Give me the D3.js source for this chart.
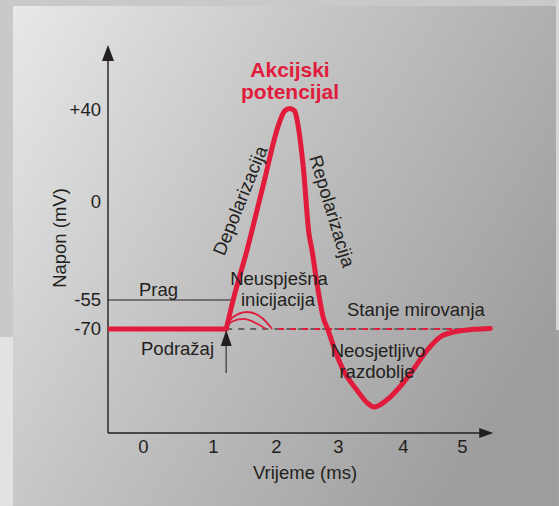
<!DOCTYPE html>
<html>
<head>
<meta charset="utf-8">
<script src="https://cdn.jsdelivr.net/npm/d3@7"></script>
<style>
  body { margin: 0; background: #c9c9c9; }
  svg { display: block; }
  text { font-family: "Liberation Sans", Arial, sans-serif; fill: #231f20; }
</style>
</head>
<body>
<svg id="chart" width="559" height="506"></svg>
<script>
// ---- data (time in ms, voltage in mV) ----
var xTicks = [0, 1, 2, 3, 4, 5];
var yTicks = [40, 0, -55, -70];
var yTickLabels = ["+40", "0", "-55", "-70"];

var restT = [-0.5, 1.21];
var restV = [-70, -70];

var spikeT = [1.21, 1.32, 1.54, 1.79, 2.06, 2.14, 2.22, 2.30, 2.34, 2.44, 2.53, 2.58, 2.66, 2.76, 2.84,
              2.95, 3.08, 3.29, 3.45, 3.55, 3.75, 4.00, 4.17, 4.41, 4.63, 4.85, 5.19, 5.48];
var spikeV = [-70, -55, -27, 6.5, 35, 39.6, 40.9, 39.6, 35.7, 15.2, -17.4, -26.9, -45.5, -63.8, -70.3,
              -76.1, -81.8, -87.6, -91.3, -92.5, -90.5, -85.6, -81.8, -76.1, -72.3, -70.9, -70.1, -69.7];

var failOuterT = [1.21, 1.30, 1.54, 1.78, 1.94];
var failOuterV = [-70, -64.3, -61.2, -64.3, -70];
var failInnerT = [1.21, 1.29, 1.48, 1.71, 1.84];
var failInnerV = [-70, -66.4, -64.8, -67.4, -70];

var restingV = -70;
var thresholdV = -55;
var stimulusT = 1.21;
var axisT = [-0.5, 5.53];
var axisV = [-100, 80];

// ---- drawing ----
var svg = d3.select("svg#chart");
var red = "#e11b3c";
var ink = "#231f20";
var fs = 18.5;

// the diagram is not drawn to scale, so both scales are piecewise
var x = d3.scaleLinear().domain(xTicks).range([143, 213, 276, 338, 403, 462]);
var y = d3.scaleLinear().domain([-100, -70, -55, 0, 40, 80]).range([433, 329, 300, 202, 110, 45]);

var defs = svg.append("defs");
var grad = defs.append("linearGradient")
  .attr("id", "bg")
  .attr("gradientUnits", "userSpaceOnUse")
  .attr("x1", 13).attr("y1", 6).attr("x2", 556).attr("y2", 330);
grad.append("stop").attr("offset", 0).attr("stop-color", "#e7e8e8");
grad.append("stop").attr("offset", 0.45).attr("stop-color", "#c4c4c4");
grad.append("stop").attr("offset", 1).attr("stop-color", "#9d9d9d");

// page edges
svg.append("rect").attr("x", 0).attr("y", 337).attr("width", 13).attr("height", 169).attr("fill", "#e2e2e2");
svg.append("rect").attr("x", 556).attr("y", 0).attr("width", 3).attr("height", 330).attr("fill", "#d6d6d6");
svg.append("rect").attr("x", 556).attr("y", 330).attr("width", 3).attr("height", 176).attr("fill", "#a0a0a0");
svg.append("rect").attr("x", 13).attr("y", 6).attr("width", 543).attr("height", 500).attr("fill", "url(#bg)");

// axes lines with arrows
var x0 = x(axisT[0]), x1 = x(axisT[1]);
var yb = y(axisV[0]), yt = y(axisV[1]);
svg.append("line").attr("x1", x0).attr("y1", yb).attr("x2", x0).attr("y2", yt + 10)
  .attr("stroke", ink).attr("stroke-width", 1.4);
svg.append("line").attr("x1", x0).attr("y1", yb).attr("x2", x1 - 10).attr("y2", yb)
  .attr("stroke", ink).attr("stroke-width", 1.4);
svg.append("path").attr("d", "M" + x0 + "," + yt + "L" + (x0 - 6) + "," + (yt + 16) + "L" + (x0 + 6) + "," + (yt + 16) + "Z")
  .attr("fill", ink);
svg.append("path").attr("d", "M" + x1 + "," + yb + "L" + (x1 - 14) + "," + (yb - 5) + "L" + (x1 - 14) + "," + (yb + 5) + "Z")
  .attr("fill", ink);

// tick labels via axes
var xAxis = svg.append("g").attr("transform", "translate(0," + yb + ")")
  .call(d3.axisBottom(x).tickValues(xTicks).tickSize(0).tickPadding(7).tickFormat(d3.format("d")));
var yAxis = svg.append("g").attr("transform", "translate(" + (x0 - 6) + ",0)")
  .call(d3.axisLeft(y).tickValues(yTicks).tickSize(0).tickPadding(1)
    .tickFormat(function(d, i) { return yTickLabels[i]; }));
[xAxis, yAxis].forEach(function(g) {
  g.select(".domain").remove();
  g.selectAll("text").attr("font-size", fs).attr("font-family", null).style("fill", ink);
});

svg.append("text").attr("x", 305).attr("y", 479).attr("text-anchor", "middle")
  .attr("font-size", fs).text("Vrijeme (ms)");
svg.append("text").attr("transform", "translate(66,238) rotate(-90)").attr("text-anchor", "middle")
  .attr("font-size", fs).text("Napon (mV)");

// threshold
svg.append("line").attr("x1", x0).attr("x2", x(1.32)).attr("y1", y(thresholdV)).attr("y2", y(thresholdV))
  .attr("stroke", ink).attr("stroke-width", 1.2);
svg.append("text").attr("x", 139).attr("y", 296).attr("font-size", fs).text("Prag");

// resting dashed line
svg.append("line").attr("x1", x(stimulusT)).attr("x2", x(5.48)).attr("y1", y(restingV)).attr("y2", y(restingV))
  .attr("stroke", "#666").attr("stroke-width", 2).attr("stroke-dasharray", "6,6");
svg.append("line").attr("x1", x(1.94)).attr("x2", x(5.48)).attr("y1", y(restingV)).attr("y2", y(restingV))
  .attr("stroke", red).attr("stroke-width", 2).attr("stroke-dasharray", "6,6").attr("stroke-dashoffset", 6);

var line = d3.line()
  .x(function(d) { return x(d[0]); })
  .y(function(d) { return y(d[1]); });
var smooth = d3.line()
  .x(function(d) { return x(d[0]); })
  .y(function(d) { return y(d[1]); })
  .curve(d3.curveMonotoneX);

// failed initiations
[[failOuterT, failOuterV], [failInnerT, failInnerV]].forEach(function(s) {
  svg.append("path").datum(d3.zip(s[0], s[1])).attr("d", smooth)
    .attr("fill", "none").attr("stroke", red).attr("stroke-width", 1.8);
});

// action potential
svg.append("path").datum(d3.zip(restT, restV)).attr("d", line)
  .attr("fill", "none").attr("stroke", red).attr("stroke-width", 5);
svg.append("path").datum(d3.zip(spikeT, spikeV)).attr("d", smooth)
  .attr("fill", "none").attr("stroke", red).attr("stroke-width", 5)
  .attr("stroke-linecap", "round").attr("stroke-linejoin", "round");

// stimulus arrow
var sx = x(stimulusT), sy = y(restingV);
svg.append("line").attr("x1", sx).attr("x2", sx).attr("y1", sy + 12).attr("y2", sy + 44)
  .attr("stroke", "#555").attr("stroke-width", 1.6);
svg.append("path").attr("d", "M" + sx + "," + (sy + 1) + "L" + (sx - 5.5) + "," + (sy + 17) + "L" + (sx + 5.5) + "," + (sy + 17) + "Z")
  .attr("fill", ink);
svg.append("text").attr("x", 141).attr("y", 355).attr("font-size", fs).text("Podražaj");

// annotations
svg.append("text").attr("x", 279).attr("y", 285).attr("text-anchor", "middle").attr("font-size", fs).text("Neuspješna");
svg.append("text").attr("x", 278).attr("y", 306).attr("text-anchor", "middle").attr("font-size", fs).text("inicijacija");
svg.append("text").attr("x", 347).attr("y", 316).attr("font-size", fs).text("Stanje mirovanja");
svg.append("text").attr("x", 378).attr("y", 357).attr("text-anchor", "middle").attr("font-size", fs).text("Neosjetljivo");
svg.append("text").attr("x", 377).attr("y", 378).attr("text-anchor", "middle").attr("font-size", fs).text("razdoblje");
svg.append("text").attr("transform", "translate(246,203) rotate(-68)").attr("text-anchor", "middle")
  .attr("font-size", fs).text("Depolarizacija");
svg.append("text").attr("transform", "translate(326,213) rotate(73)").attr("text-anchor", "middle")
  .attr("font-size", fs).text("Repolarizacija");

// title
svg.append("text").attr("x", 290).attr("y", 77).attr("text-anchor", "middle")
  .attr("font-size", 21).attr("font-weight", "bold").style("fill", red).text("Akcijski");
svg.append("text").attr("x", 290).attr("y", 99).attr("text-anchor", "middle")
  .attr("font-size", 21).attr("font-weight", "bold").style("fill", red).text("potencijal");
</script>
</body>
</html>
